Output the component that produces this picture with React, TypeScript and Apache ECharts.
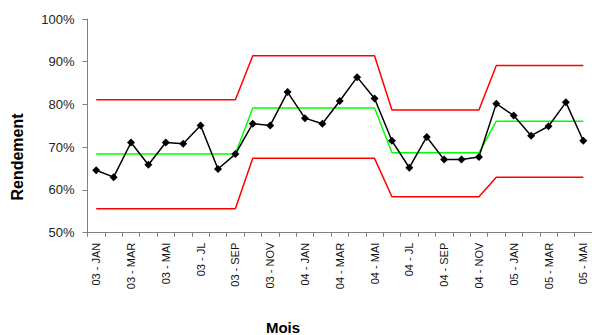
import React, { useEffect, useRef } from "react";
import * as echarts from "echarts";

const monthNames = ["JAN", "FEV", "MAR", "AVR", "MAI", "JN", "JL", "AOU", "SEP", "OCT", "NOV", "DEC"];
const years = ["03", "04", "05"];
const categories: string[] = [];
for (const y of years) {
  for (const m of monthNames) {
    if (categories.length < 29) categories.push(`${y} - ${m}`);
  }
}

const rendement = [
  64.6, 63.0, 71.1, 65.9, 71.1, 70.8, 75.1, 64.9, 68.4,
  75.5, 75.1, 82.9, 76.8, 75.5, 80.8, 86.4, 81.4,
  71.5, 65.2, 72.4, 67.1, 67.1, 67.7,
  80.2, 77.4, 72.7, 74.9, 80.5, 71.5,
];
const centerLine = [
  68.4, 68.4, 68.4, 68.4, 68.4, 68.4, 68.4, 68.4, 68.4,
  79.2, 79.2, 79.2, 79.2, 79.2, 79.2, 79.2, 79.2,
  68.7, 68.7, 68.7, 68.7, 68.7, 68.7,
  76.1, 76.1, 76.1, 76.1, 76.1, 76.1,
];
const upperLimit = [
  81.1, 81.1, 81.1, 81.1, 81.1, 81.1, 81.1, 81.1, 81.1,
  91.4, 91.4, 91.4, 91.4, 91.4, 91.4, 91.4, 91.4,
  78.7, 78.7, 78.7, 78.7, 78.7, 78.7,
  89.1, 89.1, 89.1, 89.1, 89.1, 89.1,
];
const lowerLimit = [
  55.6, 55.6, 55.6, 55.6, 55.6, 55.6, 55.6, 55.6, 55.6,
  67.4, 67.4, 67.4, 67.4, 67.4, 67.4, 67.4, 67.4,
  58.4, 58.4, 58.4, 58.4, 58.4, 58.4,
  63.0, 63.0, 63.0, 63.0, 63.0, 63.0,
];

const FONT = "Liberation Sans, Arial, sans-serif";

export default function App() {
  const ref = useRef<HTMLDivElement>(null);
  useEffect(() => {
    document.body.style.margin = "0";
    if (!ref.current) return;
    const chart = echarts.init(ref.current, null, { renderer: "svg" });
    const lineSeries = (data: number[], color: string, z: number) => ({
      type: "line",
      data,
      symbol: "none",
      lineStyle: { color, width: 1.5 },
      z,
      silent: true,
    });
    chart.setOption({
      animation: false,
      backgroundColor: "#ffffff",
      grid: { left: 87.5, top: 19, width: 509, height: 213.7, containLabel: false },
      xAxis: {
        type: "category",
        data: categories,
        boundaryGap: true,
        axisLine: { lineStyle: { color: "#808080", width: 1 } },
        axisTick: { show: true, interval: 0, length: 4, lineStyle: { color: "#808080" } },
        axisLabel: {
          interval: 1,
          rotate: 90,
          margin: 10,
          fontSize: 11,
          fontFamily: FONT,
          color: "#111",
        },
        splitLine: { show: false },
      },
      yAxis: {
        type: "value",
        min: 50,
        max: 100,
        interval: 10,
        axisLine: { show: true, lineStyle: { color: "#808080", width: 1 } },
        axisTick: { show: true, length: 5, lineStyle: { color: "#808080" } },
        axisLabel: {
          formatter: "{value}%",
          fontSize: 13,
          fontFamily: FONT,
          color: "#222",
          margin: 13,
        },
        splitLine: { show: false },
      },
      graphic: [
        {
          type: "text",
          x: 17,
          y: 157,
          rotation: Math.PI / 2,
          style: {
            text: "Rendement",
            fontSize: 16,
            fontWeight: "bold",
            fontFamily: FONT,
            fill: "#000",
            align: "center",
            verticalAlign: "middle",
          },
        },
        {
          type: "text",
          x: 283,
          y: 327,
          style: {
            text: "Mois",
            fontSize: 15,
            fontWeight: "bold",
            fontFamily: FONT,
            fill: "#000",
            align: "center",
            verticalAlign: "middle",
          },
        },
      ],
      series: [
        lineSeries(upperLimit, "#ff0000", 1),
        lineSeries(lowerLimit, "#ff0000", 1),
        lineSeries(centerLine, "#00ff00", 2),
        {
          type: "line",
          data: rendement,
          symbol: "diamond",
          symbolSize: 8,
          lineStyle: { color: "#000", width: 1.5 },
          itemStyle: { color: "#000" },
          z: 3,
        },
      ],
    });
    return () => chart.dispose();
  }, []);
  return <div ref={ref} style={{ width: 592, height: 335 }} />;
}
